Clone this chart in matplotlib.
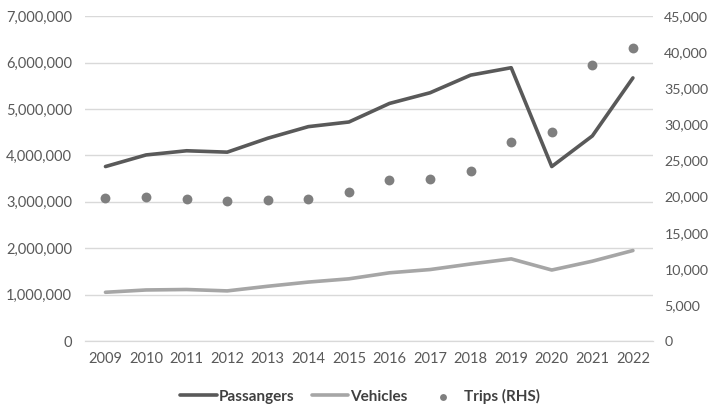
import matplotlib
matplotlib.use("Agg")
import matplotlib.pyplot as plt
from matplotlib.ticker import FuncFormatter, MultipleLocator

years = [2009, 2010, 2011, 2012, 2013, 2014, 2015, 2016, 2017, 2018, 2019, 2020, 2021, 2022]
passengers = [3760000, 4010000, 4100000, 4070000, 4370000, 4620000, 4720000,
              5120000, 5350000, 5730000, 5890000, 3760000, 4420000, 5670000]
vehicles = [1050000, 1100000, 1110000, 1080000, 1180000, 1270000, 1340000,
            1470000, 1540000, 1660000, 1770000, 1530000, 1720000, 1950000]
trips = [19840, 19940, 19700, 19400, 19500, 19700, 20700,
         22300, 22500, 23500, 27550, 28900, 38300, 40600]

C_PASS = "#595959"
C_VEH = "#a6a6a6"
C_TRIP = "#7f7f7f"
C_TEXT = "#595959"

plt.rcParams["font.family"] = ["Lato", "DejaVu Sans"]

fig = plt.figure(figsize=(7.1, 4.05), dpi=100)
ax = fig.add_axes([0.12, 0.158, 0.8, 0.802])
ax2 = ax.twinx()

ax.plot(years, passengers, color=C_PASS, lw=2.6, label="Passangers", solid_capstyle="round", zorder=3)
ax.plot(years, vehicles, color=C_VEH, lw=2.6, label="Vehicles", solid_capstyle="round", zorder=3)
ax2.scatter(years, trips, s=50, color=C_TRIP, label="Trips (RHS)", zorder=3, linewidths=0)

ax.set_xlim(2008.5, 2022.5)
ax.set_ylim(0, 7000000)
ax2.set_ylim(0, 45000)
ax.yaxis.set_major_locator(MultipleLocator(1000000))
ax2.yaxis.set_major_locator(MultipleLocator(5000))
ax.yaxis.set_major_formatter(FuncFormatter(lambda v, p: f"{int(v):,}"))
ax2.yaxis.set_major_formatter(FuncFormatter(lambda v, p: f"{int(v):,}"))
ax.set_xticks(years)
ax.set_xticklabels([str(y) for y in years])

ax.grid(axis="y", color="#d9d9d9", lw=1)
ax.set_axisbelow(True)
for a in (ax, ax2):
    for s in ("top", "left", "right"):
        a.spines[s].set_visible(False)
    a.spines["bottom"].set_color("#d9d9d9")
    a.tick_params(length=0, labelsize=10.5, colors=C_TEXT)
ax.tick_params(axis="y", pad=9.5)
ax2.tick_params(axis="y", pad=8, labelsize=10.2)
ax.tick_params(axis="x", pad=8)

h1, l1 = ax.get_legend_handles_labels()
h2, l2 = ax2.get_legend_handles_labels()
leg = fig.legend(h1 + h2, l1 + l2, loc="center", bbox_to_anchor=(0.507, 0.022), ncol=3,
                 frameon=False, handlelength=2.4, handletextpad=0.15, columnspacing=1.1,
                 markerscale=0.7, prop={"size": 11, "weight": "bold"})
for t in leg.get_texts():
    t.set_color("#404040")

fig.savefig("out.png", dpi=100)
